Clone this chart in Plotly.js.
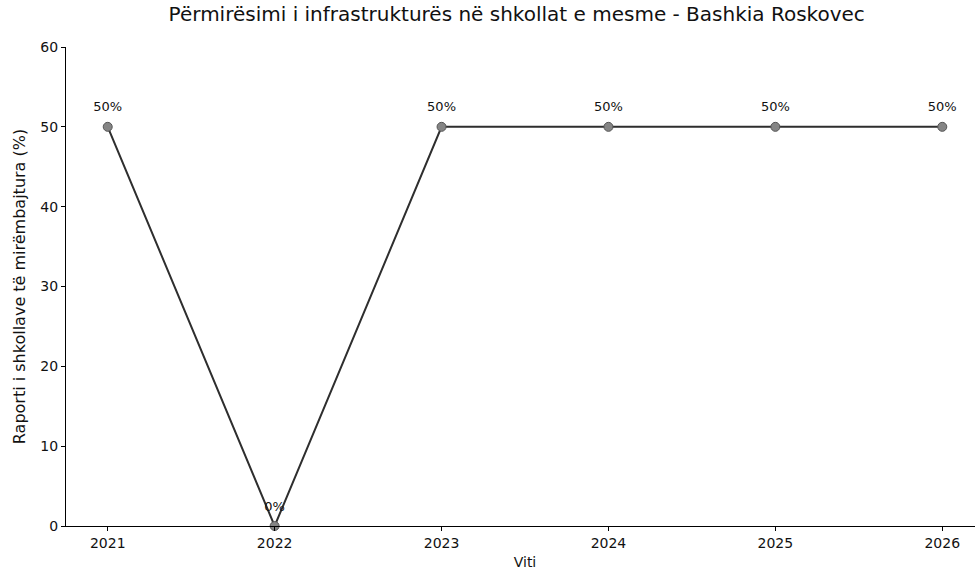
<!DOCTYPE html>
<html><head><meta charset="utf-8">
<script src="https://cdn.plot.ly/plotly-3.0.1.min.js"></script>
<style>html,body{margin:0;padding:0;overflow:hidden;background:#fff}</style>
</head><body><div id="chart" style="width:984px;height:574px"></div>
<script>
const years = [2021, 2022, 2023, 2024, 2025, 2026];
const values = [50, 0, 50, 50, 50, 50];
const labels = values.map(v => v + '%');
const yTicks = [0, 10, 20, 30, 40, 50, 60];

const lineTrace = {
  x: years, y: values, mode: 'lines+markers',
  line: {color: '#2e2e2e', width: 2},
  marker: {color: '#858585', size: 9, line: {color: '#555', width: 1}},
  cliponaxis: false, hoverinfo: 'skip'
};
const labelTrace = {
  x: years, y: values, mode: 'markers+text',
  text: labels, textposition: 'top center',
  textfont: {family: 'DejaVu Sans', size: 13, color: '#111'},
  marker: {size: 18, opacity: 0},
  cliponaxis: false, hoverinfo: 'skip'
};
const layout = {
  width: 984, height: 574,
  margin: {l: 66, r: 0, t: 47, b: 48},
  paper_bgcolor: '#fff', plot_bgcolor: '#fff',
  font: {family: 'DejaVu Sans', color: '#111', size: 14},
  title: {text: 'Përmirësimi i infrastrukturës në shkollat e mesme - Bashkia Roskovec',
          font: {size: 20, family: 'DejaVu Sans', color: '#111'}, x: 0.491, xref: 'paper', xanchor: 'center', y: 0.975, yanchor: 'middle'},
  showlegend: false,
  xaxis: {range: [2020.75, 2026.25], tickvals: years, ticktext: years.map(String),
          showgrid: false, zeroline: false, showline: true, linecolor: '#000', linewidth: 1,
          ticks: 'outside', ticklen: 4, tickcolor: '#000', tickfont: {size: 14},
          title: {text: 'Viti', font: {size: 14}, standoff: 7}},
  yaxis: {range: [0, 60], tickvals: yTicks, showgrid: false, zeroline: false,
          showline: true, linecolor: '#000', linewidth: 1,
          ticks: 'outside', ticklen: 4, tickcolor: '#000', tickfont: {size: 14},
          title: {text: 'Raporti i shkollave të mirëmbajtura (%)', font: {size: 16}, standoff: 10}}
};
Plotly.newPlot('chart', [lineTrace, labelTrace], layout, {displayModeBar: false, staticPlot: true});
</script></body></html>
